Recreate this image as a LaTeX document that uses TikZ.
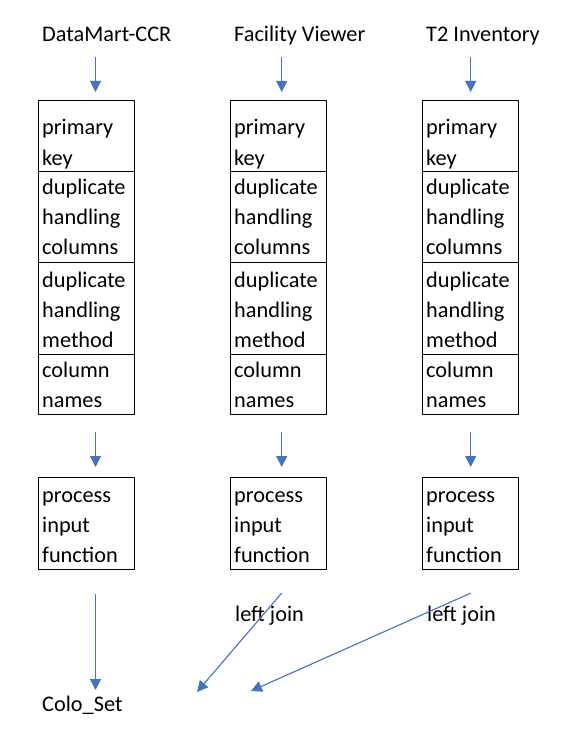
\documentclass[tikz,border=0pt]{standalone}
\usepackage{fontspec}
\setmainfont{Carlito}
\usetikzlibrary{arrows.meta}
\definecolor{flowblue}{HTML}{4472C4}
\begin{document}
\begin{tikzpicture}[x=1pt,y=-1pt,>={Triangle[length=11pt,width=11pt]}, line join=round]
	\tikzset{cell/.style={draw,line width=1pt,minimum width=96pt,inner sep=0pt,anchor=north west},
		txt/.style={anchor=base west,inner sep=0pt,font=\fontsize{22.3}{30}\selectfont},
		flow/.style={->,draw=flowblue,line width=1.1pt,fill=flowblue}}
	\useasboundingbox (0,0) rectangle (577,730);
	% three sources, one column each
	\foreach \src/\x/\ax [count=\c] in {DataMart-CCR/38/95.5, Facility Viewer/230/281.7, T2 Inventory/422/470.7}{
		\node[txt] (head\c) at (\x+4,42) {\src};
		\node[cell,minimum height=71pt] (key\c) at (\x,100) {};
		\node[cell,minimum height=91pt] (cols\c) at (\x,171) {};
		\node[cell,minimum height=92pt] (meth\c) at (\x,262) {};
		\node[cell,minimum height=60pt] (name\c) at (\x,354) {};
		\node[cell,minimum height=92pt] (proc\c) at (\x,477) {};
		\foreach \t [count=\i] in {primary,key}
			\node[txt] (key\c-\i) at (\x+4,105+30*\i) {\t};
		\foreach \t [count=\i] in {duplicate,handling,columns}
			\node[txt] (cols\c-\i) at (\x+4,164+30*\i) {\t};
		\foreach \t [count=\i] in {duplicate,handling,method}
			\node[txt] (meth\c-\i) at (\x+4,257+30*\i) {\t};
		\foreach \t [count=\i] in {column,names}
			\node[txt] (name\c-\i) at (\x+4,347+30*\i) {\t};
		\foreach \t [count=\i] in {process,input,function}
			\node[txt] (proc\c-\i) at (\x+4,472+30*\i) {\t};
		% arrows into and out of the table
		\coordinate (in\c) at (\ax,57);
		\coordinate (inend\c) at (\ax,92);
		\coordinate (mid\c) at (\ax,432);
		\coordinate (midend\c) at (\ax,467);
		\draw[flow] (in\c) -- (inend\c);
		\draw[flow] (mid\c) -- (midend\c);
	}
	\node[txt] (join2) at (235,621.5) {left join};
	\node[txt] (join3) at (427,621.5) {left join};
	\node[txt] (colo) at (42,711.5) {Colo\_Set};
	\coordinate (out1) at (95.5,594);
	\coordinate (outend1) at (95.5,690);
	\coordinate (out2) at (281.7,593);
	\coordinate (outend2) at (197,692);
	\coordinate (out3) at (471,593);
	\coordinate (outend3) at (251,691);
	\draw[flow] (out1) -- (outend1);
	\draw[flow] (out2) -- (outend2);
	\draw[flow] (out3) -- (outend3);
\end{tikzpicture}
\end{document}
